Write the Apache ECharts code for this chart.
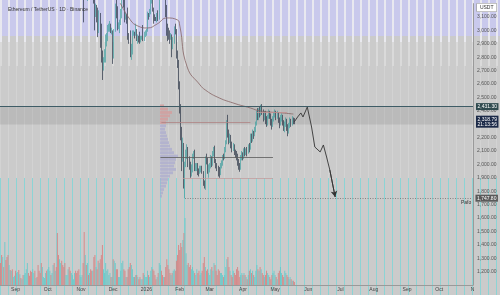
<!DOCTYPE html>
<html>
<head>
<meta charset="utf-8">
<script src="https://cdn.jsdelivr.net/npm/echarts@6/dist/echarts.min.js"></script>
<style>
html, body { margin: 0; padding: 0; }
#chart {
  width: 500px;
  height: 295px;
  background:
    repeating-linear-gradient(90deg, rgba(234,234,240,0.95) 0 2px, transparent 2px 8px) 0 0 / 100% 42px no-repeat,
    linear-gradient(#c9c9ec, #c9c9ec) 0 0 / 100% 36px no-repeat,
    repeating-linear-gradient(90deg, #dadada 0 2px, transparent 2px 8px) 0 36px / 100% 30px no-repeat,
    repeating-linear-gradient(90deg, #8cd4d5 0 1px, transparent 1px 8px) 0 178px / 100% 117px no-repeat,
    repeating-linear-gradient(90deg, #d3d3d3 0 1px, transparent 1px 8px),
    #cbcbcb;
}
</style>
</head>
<body>
<div id="chart"></div>
<script>
// daily categories, 2025-08-18 .. 2026-11-01
const startDay = Date.UTC(2025, 7, 18);
const dayCount = 441;
const dates = [];
for (let i = 0; i < dayCount; i++) {
  dates.push(new Date(startDay + i * 864e5).toISOString().slice(0, 10));
}
const monthNames = ["Jan", "Feb", "Mar", "Apr", "May", "Jun", "Jul", "Aug", "Sep", "Oct", "Nov", "Dec"];

// [open, close, low, high] from 2025-08-18
const ohlc = [
  // Aug
  [4475,4310,4225,4480],[4310,4075,4060,4370],[4075,4340,4060,4380],[4340,4225,4210,4380],[4225,4830,4220,4885],[4830,4780,4720,4890],[4780,4770,4590,4955],
  [4770,4380,4350,4785],[4380,4600,4310,4610],[4600,4510,4480,4640],[4510,4510,4440,4630],[4510,4360,4270,4550],[4360,4370,4260,4400],[4370,4390,4350,4480],
  // Sep
  [4390,4310,4210,4440],[4310,4330,4280,4350],[4330,4450,4280,4480],[4450,4300,4260,4470],[4300,4300,4270,4490],[4300,4275,4260,4320],[4275,4310,4260,4340],
  [4310,4305,4260,4350],[4305,4310,4280,4350],[4310,4350,4300,4380],[4350,4460,4320,4480],[4460,4710,4420,4740],[4710,4670,4620,4760],[4670,4600,4570,4680],
  [4600,4520,4480,4630],[4520,4500,4460,4540],[4500,4590,4420,4610],[4590,4590,4550,4650],[4590,4470,4450,4610],[4470,4480,4460,4520],[4480,4450,4440,4510],
  [4450,4200,4070,4460],[4200,4160,4140,4230],[4160,4150,4110,4200],[4150,3870,3840,4160],[3870,4020,3810,4040],[4020,4020,3990,4050],[4020,4140,4010,4150],
  [4140,4210,4090,4220],[4210,4150,4080,4230],
  // Oct
  [4150,4350,4140,4380],[4350,4480,4340,4510],[4480,4510,4400,4560],[4510,4480,4460,4530],[4480,4510,4430,4600],[4510,4690,4490,4730],[4690,4460,4440,4750],
  [4460,4520,4440,4540],[4520,4370,4320,4540],[4370,3840,3440,4390],[3840,3750,3670,3890],[3750,4150,3720,4160],[4150,4240,4080,4280],[4240,4120,3900,4240],
  [4120,3990,3920,4220],[3990,3890,3850,4080],[3890,3830,3670,3960],[3830,3890,3820,3920],[3890,3980,3860,4040],[3980,3980,3920,4100],[3980,3870,3710,4100],
  [3870,3800,3720,3900],[3800,3850,3780,3890],[3850,3935,3840,3960],[3935,3950,3910,3970],[3950,4160,3930,4180],[4160,4120,4110,4250],[4120,3980,3950,4160],
  [3980,3900,3880,4030],[3900,3810,3700,3920],[3810,3850,3800,3890],
  // Nov
  [3850,3880,3830,3900],[3880,3900,3810,3920],[3900,3600,3520,3920],[3600,3290,3060,3610],[3290,3420,3250,3460],[3420,3320,3290,3440],[3320,3430,3220,3460],
  [3430,3400,3390,3460],[3400,3590,3370,3610],[3590,3560,3530,3650],[3560,3420,3410,3590],[3420,3430,3400,3570],[3430,3240,3200,3520],[3240,3110,3000,3250],
  [3110,3170,3100,3200],[3170,3090,3060,3190],[3090,3000,2950,3170],[3000,3110,2980,3150],[3110,3000,2870,3130],[3000,2830,2760,3050],[2830,2760,2630,2850],
  [2760,2770,2700,2800],[2770,2800,2760,2860],[2800,2950,2760,2970],[2950,2960,2880,2980],[2960,3020,2920,3040],[3020,3030,2990,3050],[3030,3040,2990,3070],
  [3040,2990,2980,3050],[2990,2990,2970,3020],
  // Dec
  [2990,2800,2750,3000],[2800,3000,2790,3010],[3000,3190,2990,3200],[3190,3130,3090,3230],[3130,3030,3000,3180],[3030,3040,3010,3060],[3040,3050,2980,3080],
  [3050,3120,3040,3160],[3120,3320,3090,3400],[3320,3320,3300,3440],[3320,3240,3170,3330],[3240,3080,3060,3260],[3080,3110,3080,3130],[3110,3070,3050,3120],
  [3070,2960,2930,3170],[2960,2950,2900,2980],[2950,2830,2800,3000],[2830,2830,2780,2900],[2830,2980,2820,3000],[2980,2980,2960,3000],[2980,2970,2940,2990],
  [2970,3000,2960,3050],[3000,2940,2920,3010],[2940,2950,2900,2970],[2950,2930,2910,2960],[2930,2920,2900,2990],[2920,2950,2910,2960],[2950,2950,2930,2960],
  [2950,2940,2920,3040],[2940,2970,2920,2990],[2970,2970,2950,3000],
  // Jan
  [2970,3000,2960,3010],[3000,3120,2990,3140],[3120,3110,3080,3130],[3110,3140,3100,3160],[3140,3220,3120,3240],[3220,3290,3200,3310],[3290,3160,3140,3300],
  [3160,3100,3050,3170],[3100,3090,3070,3120],[3090,3080,3070,3100],[3080,3110,3060,3130],[3110,3090,3070,3150],[3090,3320,3080,3340],[3320,3360,3300,3400],
  [3360,3320,3280,3400],[3320,3290,3250,3350],[3290,3310,3270,3330],[3310,3280,3240,3340],[3280,3180,3100,3290],[3180,3000,2960,3190],[3000,2980,2920,3050],
  [2980,2960,2930,3020],[2960,2950,2900,3000],[2950,2960,2930,2980],[2960,2880,2800,2970],[2880,2920,2860,2950],[2920,3010,2900,3030],[3010,3000,2970,3050],
  [3000,2820,2790,3010],[2820,2760,2720,2850],[2760,2600,2560,2780],
  // Feb
  [2600,2420,2380,2620],[2420,2250,2180,2450],[2250,2100,1950,2280],[2100,2150,2020,2200],[2150,1880,1820,2160],[1880,2000,1747.8,2020],[2000,2080,1980,2110],
  [2080,2100,2040,2150],[2100,2020,1980,2130],[2020,2000,1960,2060],[2000,1940,1900,2020],[1940,1960,1910,2000],[1960,2050,1940,2080],[2050,2080,2040,2100],
  [2080,1970,1950,2110],[1970,1990,1950,2010],[1990,1990,1950,2010],[1990,1950,1920,2010],[1950,1940,1910,1970],[1940,1960,1930,1990],[1960,1980,1940,1990],
  [1980,1940,1930,1990],[1940,1860,1840,1950],[1860,1850,1820,1880],[1850,2050,1810,2060],[2050,2030,2000,2080],[2030,1950,1930,2050],[1950,1960,1900,2000],
  // Mar
  [1960,1990,1940,2010],[1990,2050,1970,2070],[2050,2000,1980,2060],[2000,2080,1990,2100],[2080,2120,2060,2130],[2120,2020,2010,2140],[2020,1990,1970,2040],
  [1990,1980,1950,2010],[1980,1960,1910,1990],[1960,1930,1900,1980],[1930,1990,1920,2010],[1990,2010,1970,2030],[2010,2060,1990,2070],[2060,2050,2030,2080],
  [2050,2110,2040,2130],[2110,2160,2090,2180],[2160,2300,2150,2330],[2300,2240,2200,2370],[2240,2190,2150,2260],[2190,2200,2160,2230],[2200,2150,2120,2220],
  [2150,2120,2090,2170],[2120,2140,2100,2160],[2140,2090,2070,2150],[2090,2080,2050,2110],[2080,2060,2030,2100],[2060,2020,1990,2080],[2020,1990,1960,2040],
  [1990,1970,1945,2010],[1970,2050,1960,2070],[2050,2070,2030,2100],
  // Apr
  [2070,2060,2030,2090],[2060,2100,2040,2120],[2100,2080,2060,2130],[2080,2110,2070,2120],[2110,2090,2060,2130],[2090,2130,2080,2150],[2130,2120,2090,2160],
  [2120,2200,2110,2230],[2200,2190,2160,2230],[2190,2230,2170,2260],[2230,2220,2190,2250],[2220,2260,2210,2280],[2260,2300,2240,2320],[2300,2380,2290,2400],
  [2380,2350,2330,2420],[2350,2400,2330,2420],[2400,2380,2350,2430],[2380,2420,2360,2445],[2420,2390,2370,2450],[2390,2350,2320,2410],[2350,2380,2330,2400],
  [2380,2340,2300,2400],[2340,2300,2280,2360],[2300,2350,2290,2370],[2350,2390,2340,2410],[2390,2360,2340,2400],[2360,2320,2290,2380],[2320,2290,2260,2340],
  [2290,2340,2280,2360],[2340,2370,2320,2390],
  // May
  [2370,2390,2350,2410],[2390,2350,2330,2400],[2350,2380,2340,2400],[2380,2330,2310,2390],[2330,2300,2270,2350],[2300,2340,2290,2370],[2340,2360,2320,2380],
  [2360,2310,2290,2370],[2310,2270,2250,2330],[2270,2300,2240,2320],[2300,2330,2280,2350],[2330,2280,2250,2340],[2280,2240,2210,2300],[2240,2290,2230,2310],
  [2290,2320,2270,2350],[2320,2300,2280,2340],[2300,2340,2290,2360],[2340,2330,2300,2350],[2330,2318.79,2300,2345]
];

// daily volume (K ETH), same days as ohlc
const volume = [
  530,720,670,430,1030,600,670,720,480,360,340,380,190,220,
  340,290,310,360,260,170,140,240,240,290,380,530,290,220,340,310,380,290,340,170,190,480,340,290,530,430,190,170,290,340,
  380,430,340,240,290,480,530,340,430,1250,720,620,530,580,480,430,530,240,240,380,430,340,290,240,140,290,340,290,340,380,240,
  190,240,530,1270,720,480,530,240,290,380,340,340,670,720,430,380,580,530,620,720,960,380,290,530,340,380,240,290,190,190,
  620,580,530,380,380,190,190,340,530,580,380,340,190,190,380,430,530,480,380,190,190,240,240,190,140,190,140,140,290,240,190,
  190,340,240,190,340,430,380,340,240,140,190,290,530,480,340,240,190,190,430,620,480,380,290,240,290,340,380,340,580,720,960,
  840,1010,910,1080,1250,1610,760,480,530,430,480,380,430,340,290,240,380,290,340,240,290,340,530,670,430,340,380,290,
  240,380,430,340,530,480,340,240,380,340,290,290,240,190,240,430,620,670,430,340,240,190,340,290,240,380,430,340,190,240,290,
  240,290,240,190,140,240,340,380,290,340,240,190,340,480,380,340,430,380,290,240,190,240,340,290,240,190,140,240,290,340,
  240,190,140,290,340,430,290,240,190,340,290,240,190,140,190,140,100,100,70
];

// moving average
const maPoints = [
  ["2025-12-06", 3230], ["2025-12-17", 3078], ["2025-12-24", 3033], ["2026-01-02", 3018],
  ["2026-01-11", 3048], ["2026-01-20", 3093], ["2026-01-30", 3078], ["2026-02-01", 3040],
  ["2026-02-08", 2727], ["2026-02-20", 2593], ["2026-02-25", 2555], ["2026-03-08", 2503],
  ["2026-03-23", 2458], ["2026-04-08", 2421], ["2026-04-17", 2399], ["2026-05-08", 2384],
  ["2026-05-18", 2376]
];

// projected path drawn on the chart
const pathPoints = [
  ["2026-05-19", 2318.79], ["2026-05-22", 2354], ["2026-05-25", 2384], ["2026-05-27", 2354],
  ["2026-05-31", 2428], ["2026-06-04", 2279], ["2026-06-07", 2130], ["2026-06-12", 2093],
  ["2026-06-15", 2145], ["2026-06-18", 2055], ["2026-06-21", 1958], ["2026-06-26", 1757]
];

// volume profile rows: [size, priceLow, priceHigh]
const profile = [
  [2,1750,1775],[3,1775,1800],[4,1800,1825],[6,1825,1850],[7,1850,1875],[8,1875,1900],
  [10,1900,1925],[13,1925,1950],[16,1950,1975],[14,1975,2000],[15,2000,2025],[16,2025,2050],
  [18,2050,2075],[14,2075,2100],[12,2100,2125],[10,2125,2150],[9,2150,2175],[8,2175,2200],
  [7,2200,2225],[6,2225,2250],[5,2250,2275],[6,2275,2300],[6,2300,2325],[8,2325,2350],
  [10,2350,2375],[12,2375,2400],[8,2400,2425],[4,2425,2450]
];

const resistance = 2431.3;
const zoneLow = 2298;
const lastPrice = 2318.79;
const lowPrice = 1747.8;
const poc = 2055;
const vah = 2316;
const val = 1899;
const upperLine = 2391;

const fmt = (v) => v.toLocaleString("en-US", { minimumFractionDigits: 2, maximumFractionDigits: 2 });
const font = "Liberation Sans";
const upColor = "#3f9f9f";
const downColor = "#2a3345";
const pathEnd = pathPoints[pathPoints.length - 1];
const pathPrev = pathPoints[pathPoints.length - 2];

const chart = echarts.init(document.getElementById("chart"));

chart.setOption({
  animation: false,
  backgroundColor: "transparent",
  textStyle: { fontFamily: font },
  title: {
    text: "Ethereum / TetherUS · 1D · Binance",
    left: 3,
    top: 2,
    textStyle: { fontSize: 5, fontWeight: "normal", color: "#333", fontFamily: font },
  },
  graphic: [
    {
      type: "text",
      right: 3,
      top: 3,
      z: 100,
      style: {
        text: "USDT",
        fontSize: 5,
        fontFamily: font,
        fill: "#333",
        backgroundColor: "#fff",
        borderColor: "#888",
        borderWidth: 0.5,
        padding: [1.5, 3],
      },
    },
  ],
  grid: [
    { left: 0, right: 27, top: 3.6, bottom: 10, outerBoundsMode: "none" },
    { left: 0, right: 27, top: 160, bottom: 10, outerBoundsMode: "none" },
    { left: 160, width: 40, top: 3.6, bottom: 10, outerBoundsMode: "none" },
  ],
  xAxis: [
    {
      type: "category",
      data: dates,
      gridIndex: 0,
      axisLine: { lineStyle: { color: "#9a9a9a", width: 1 } },
      axisTick: { show: false },
      splitLine: { show: false },
      axisLabel: {
        interval: (i, v) => v.slice(8) === "01",
        fontSize: 5,
        color: "#444",
        margin: 2,
        formatter: (v) => {
          if (v === dates[dates.length - 1]) return "N";
          const m = +v.slice(5, 7);
          return m === 1 ? v.slice(0, 4) : monthNames[m - 1];
        },
      },
    },
    { type: "category", data: dates, gridIndex: 1, show: false },
    { type: "value", gridIndex: 2, min: 0, max: 40, show: false },
  ],
  yAxis: [
    {
      type: "value",
      gridIndex: 0,
      position: "right",
      min: 1100,
      max: 3200,
      interval: 100,
      axisLine: { show: true, lineStyle: { color: "#9a9a9a" } },
      axisTick: { show: false },
      splitLine: { show: false },
      axisLabel: {
        fontSize: 5,
        color: "#555",
        margin: 4,
        showMinLabel: false,
        showMaxLabel: false,
        formatter: fmt,
      },
    },
    { type: "value", gridIndex: 1, min: 0, max: 3000, show: false },
    { type: "value", gridIndex: 2, min: 1100, max: 3200, show: false },
  ],
  series: [
    {
      type: "bar",
      xAxisIndex: 1,
      yAxisIndex: 1,
      barWidth: 1,
      data: volume.map((v, i) => ({
        value: v,
        itemStyle: {
          color: ohlc[i][1] >= ohlc[i][0] ? "rgba(95,200,200,0.8)" : "rgba(214,128,128,0.85)",
        },
      })),
    },
    {
      type: "custom",
      xAxisIndex: 2,
      yAxisIndex: 2,
      data: profile,
      encode: { x: 0, y: [1, 2] },
      renderItem: (params, api) => {
        const a = api.coord([0, api.value(2)]);
        const b = api.coord([api.value(0), api.value(1)]);
        const hi = api.value(1) >= zoneLow;
        return {
          type: "rect",
          shape: { x: a[0], y: a[1] + 0.3, width: b[0] - a[0], height: b[1] - a[1] - 0.6 },
          style: { fill: hi ? "rgba(212,158,158,0.85)" : "rgba(168,168,206,0.7)" },
        };
      },
    },
    {
      type: "candlestick",
      xAxisIndex: 0,
      yAxisIndex: 0,
      data: ohlc,
      barWidth: 1,
      clip: false,
      itemStyle: {
        color: upColor,
        color0: downColor,
        borderColor: upColor,
        borderColor0: downColor,
        borderWidth: 0.7,
      },
      markArea: {
        silent: true,
        itemStyle: { color: "rgba(110,110,110,0.18)" },
        data: [[{ yAxis: zoneLow }, { yAxis: resistance }]],
      },
      markPoint: {
        silent: true,
        symbol: "circle",
        symbolSize: 0,
        data: [
          {
            coord: ["2026-10-26", lowPrice],
            label: {
              show: true,
              position: "bottom",
              distance: 2,
              formatter: "Pafo",
              fontSize: 5,
              fontFamily: font,
              color: "#333",
            },
          },
        ],
      },
      markLine: {
        silent: true,
        symbol: ["none", "none"],
        label: { fontSize: 5, fontFamily: font, distance: 3 },
        data: [
          {
            yAxis: resistance,
            lineStyle: { color: "#3e5c66", width: 1, type: "solid" },
            label: {
              position: "end",
              formatter: fmt(resistance),
              color: "#fff",
              backgroundColor: "#2f4a4f",
              padding: [1, 1.5],
            },
          },
          {
            yAxis: lastPrice,
            lineStyle: { color: "rgba(0,0,0,0)", width: 0.1 },
            label: {
              show: true,
              position: "end",
              formatter: fmt(lastPrice) + "\n21:13:56",
              color: "#fff",
              backgroundColor: "#1c2a48",
              lineHeight: 5,
              padding: [1, 1.5],
            },
          },
          [
            {
              coord: ["2026-02-06", lowPrice],
              lineStyle: { color: "#666", width: 0.7, type: [1, 1.5] },
              label: {
                position: "end",
                formatter: fmt(lowPrice),
                color: "#fff",
                backgroundColor: "#5a5a5a",
                padding: [1, 1.5],
              },
            },
            { coord: [dates[dates.length - 1], lowPrice] },
          ],
          [
            { coord: ["2026-01-14", poc], lineStyle: { color: "#5a5a5a", width: 0.8, type: "solid" }, label: { show: false } },
            { coord: ["2026-04-29", poc] },
          ],
          [
            { coord: ["2026-01-15", vah], lineStyle: { color: "#b08484", width: 0.8, type: "solid" }, label: { show: false } },
            { coord: ["2026-04-08", vah] },
          ],
          [
            { coord: ["2026-02-04", val], lineStyle: { color: "#c29a9a", width: 0.7, type: "solid" }, label: { show: false } },
            { coord: ["2026-04-29", val] },
          ],
          [
            { coord: ["2026-04-14", upperLine], lineStyle: { color: "#c49292", width: 0.8, type: "solid" }, label: { show: false } },
            { coord: ["2026-05-12", upperLine] },
          ],
        ],
      },
    },
    {
      type: "line",
      xAxisIndex: 0,
      yAxisIndex: 0,
      data: maPoints,
      smooth: true,
      symbol: "none",
      lineStyle: { color: "#876565", width: 0.8 },
      z: 3,
    },
    {
      type: "line",
      xAxisIndex: 0,
      yAxisIndex: 0,
      symbol: "none",
      lineStyle: { color: "#333", width: 0.9 },
      z: 4,
      data: pathPoints,
      markLine: {
        silent: true,
        symbol: ["none", "arrow"],
        symbolSize: [5, 6],
        lineStyle: { color: "#333", width: 0.9, type: "solid" },
        label: { show: false },
        data: [[{ coord: pathPrev }, { coord: pathEnd }]],
      },
    },
  ],
});
</script>
</body>
</html>
